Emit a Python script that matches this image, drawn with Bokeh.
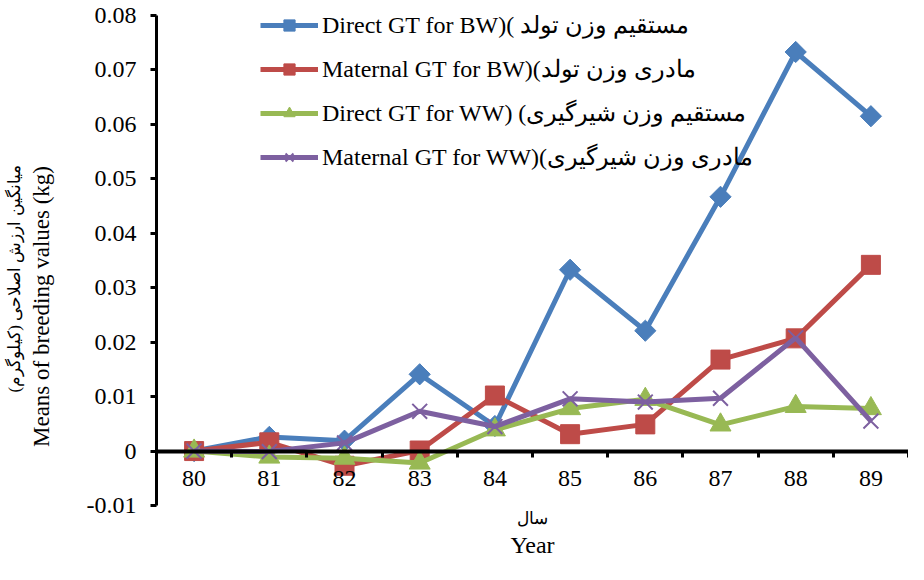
import numpy as np
from bokeh.plotting import figure
from bokeh.models import (Range1d, FixedTicker, CustomJSTickFormatter, Legend,
                          LegendItem, Title)
from bokeh.embed import file_html
from bokeh.resources import INLINE

# ---------------- data ----------------
years = [80, 81, 82, 83, 84, 85, 86, 87, 88, 89]
direct_bw = [0.0, 0.0026, 0.0019, 0.0141, 0.0046, 0.0333, 0.0221, 0.0467, 0.0733, 0.0615]
maternal_bw = [0.0, 0.0016, -0.0027, 0.0001, 0.0102, 0.0031, 0.0049, 0.0168, 0.0207, 0.0342]
direct_ww = [0.0, -0.0011, -0.0013, -0.0022, 0.0039, 0.0078, 0.0095, 0.0048, 0.0082, 0.0078]
maternal_ww = [0.0, -0.0001, 0.0015, 0.0073, 0.0045, 0.0096, 0.0090, 0.0097, 0.0208, 0.0055]
y_ticks = [-0.01, 0.0, 0.01, 0.02, 0.03, 0.04, 0.05, 0.06, 0.07, 0.08]
x_bounds = [79.5, 80.5, 81.5, 82.5, 83.5, 84.5, 85.5, 86.5, 87.5, 88.5, 89.5]

labels = [
    "Direct GT for BW)( مستقیم وزن تولد",
    "Maternal GT for BW)(مادری وزن تولد",
    "Direct GT for WW) (مستقیم وزن شیرگیری",
    "Maternal GT for WW)(مادری وزن شیرگیری",
]
y_title_en = "Means of breeding values (kg)"
y_title_fa = "میانگین ارزش اصلاحی (کیلوگرم)"
x_title_en = "Year"
x_title_fa = "سال"

colors = ["#4A7EBB", "#BE4B48", "#98B954", "#7D60A0"]
serif = "Liberation Serif"

p = figure(width=908, height=564, output_backend="svg", toolbar_location=None,
           x_range=Range1d(79.5, 89.5), y_range=Range1d(-0.01, 0.08),
           min_border_left=152, min_border_right=0, min_border_top=15,
           min_border_bottom=59, outline_line_color=None)
p.xgrid.visible = False
p.ygrid.visible = False
p.background_fill_color = "white"

# y axis
yax = p.yaxis[0]
yax.ticker = FixedTicker(ticks=y_ticks)
yax.formatter = CustomJSTickFormatter(code="return Math.abs(tick) < 1e-9 ? '0' : tick.toFixed(2);")
yax.axis_line_width = 3
yax.axis_line_color = "black"
yax.major_tick_line_width = 3
yax.major_tick_out = 6
yax.major_tick_in = 0
yax.minor_tick_line_color = None
yax.major_label_text_font = serif
yax.major_label_text_font_size = "24px"
yax.major_label_text_color = "black"
yax.major_label_standoff = 14
# English axis title; trailing no-break spaces shift the visible text downward
yax.axis_label = y_title_en + "\u00a0" * 16
yax.axis_label_text_font = serif
yax.axis_label_text_font_size = "23px"
yax.axis_label_text_font_style = "normal"
yax.axis_label_text_color = "black"
yax.axis_label_standoff = 30

# x axis at y = 0
xax = p.xaxis[0]
xax.fixed_location = 0
xax.ticker = FixedTicker(ticks=years, minor_ticks=x_bounds)
xax.axis_line_width = 4
xax.axis_line_color = "black"
xax.major_tick_out = 0
xax.major_tick_in = 0
xax.minor_tick_out = 6
xax.minor_tick_in = 0
xax.minor_tick_line_width = 3
xax.minor_tick_line_color = "black"
xax.major_label_text_font = serif
xax.major_label_text_font_size = "24px"
xax.major_label_text_color = "black"
xax.major_label_standoff = 14

series = [direct_bw, maternal_bw, direct_ww, maternal_ww]
items = []
for i, (ys, c, lab) in enumerate(zip(series, colors, labels)):
    lr = p.line(years, ys, line_color=c, line_width=5)
    if i == 0:
        sr = p.scatter(years, ys, marker="square", angle=np.pi / 4, size=15,
                       fill_color=c, line_color=c)
    elif i == 1:
        sr = p.scatter(years, ys, marker="square", size=19, fill_color=c, line_color=c)
    elif i == 2:
        sr = p.scatter(years, ys, marker="triangle", size=21, fill_color=c, line_color=c)
    else:
        sr = p.scatter(years, ys, marker="x", size=21, line_color=c, line_width=2)
    items.append(LegendItem(label=lab, renderers=[lr, sr]))

# location = bottom-left corner of the legend, measured from the frame's bottom-left
legend = Legend(items=items, location=(104, 334), border_line_color=None,
                background_fill_alpha=0, label_text_font=serif,
                label_text_font_size="24px", label_text_color="black",
                glyph_width=58, glyph_height=28, label_height=28, spacing=16,
                padding=0, margin=0, label_standoff=4)
p.add_layout(legend)

p.add_layout(Title(text=y_title_fa, align="left", text_font=serif,
                   text_font_size="17px", text_font_style="normal",
                   text_color="black", standoff=4, offset=113), "left")
p.add_layout(Title(text=x_title_fa, align="center", text_font=serif,
                   text_font_size="17px", text_font_style="normal",
                   text_color="black", standoff=2), "below")
p.add_layout(Title(text=x_title_en, align="center", text_font=serif,
                   text_font_size="24px", text_font_style="normal",
                   text_color="black", standoff=2), "below")

open("out.html", "w").write(file_html(p, INLINE))
